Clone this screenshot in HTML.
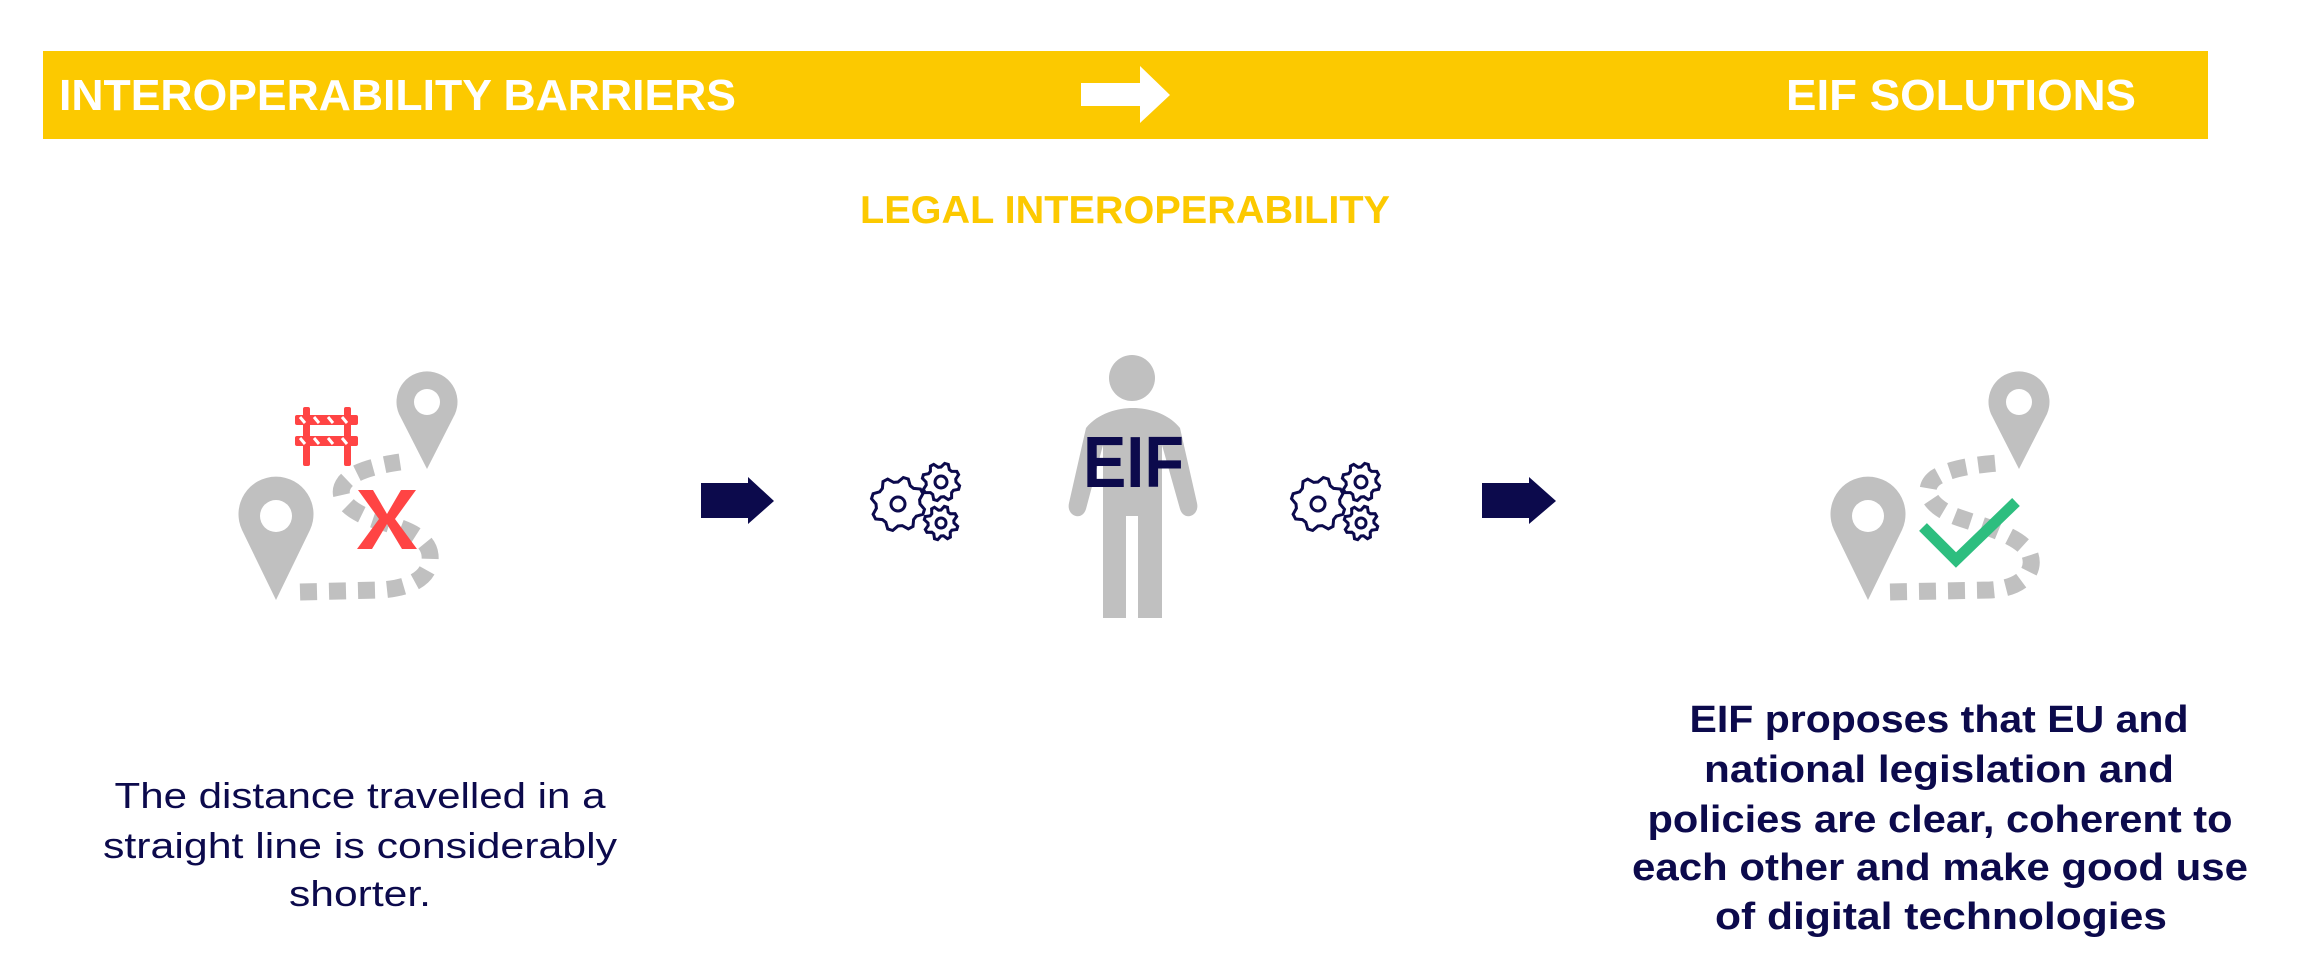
<!DOCTYPE html>
<html><head><meta charset="utf-8"><style>html,body{margin:0;padding:0;background:#fff}svg{display:block}</style></head>
<body>
<svg width="2304" height="980" viewBox="0 0 2304 980" xmlns="http://www.w3.org/2000/svg">
<rect x="0" y="0" width="2304" height="980" fill="#fff"/>
<rect x="43" y="51" width="2165" height="88" fill="#fcc900"/>
<g font-family="Liberation Sans, sans-serif" font-weight="bold">
<text x="59" y="110" font-size="44" fill="#fff" textLength="677" lengthAdjust="spacingAndGlyphs">INTEROPERABILITY BARRIERS</text>
<text x="1786" y="110" font-size="44" fill="#fff" textLength="350" lengthAdjust="spacingAndGlyphs">EIF SOLUTIONS</text>
<text x="860" y="223" font-size="39" fill="#fcc900" textLength="530" lengthAdjust="spacingAndGlyphs">LEGAL INTEROPERABILITY</text>
</g>
<polygon points="1081,83 1140,83 1140,66 1170,95 1140,123 1140,106 1081,106" fill="#fff"/>

<!-- left icon -->
<path d="M300,592 L380,590 C415,588 432,575 430,555 C428,535 400,527 375,520 C345,510 335,495 345,482 C355,470 380,465 400,462" fill="none" stroke="#c0c0c0" stroke-width="17" stroke-dasharray="17 12"/>
<path d="M276,600 L242,530 A37.5,37.5 0 1 1 310,530 Z" fill="#c0c0c0"/>
<circle cx="276" cy="516" r="16" fill="#fff"/>
<path d="M427,469 L399,414 A30.5,30.5 0 1 1 455,414 Z" fill="#c0c0c0"/>
<circle cx="427" cy="402" r="13" fill="#fff"/>
<g fill="#ff4444">
<rect x="303" y="407" width="7" height="59" rx="2"/><rect x="344" y="407" width="7" height="59" rx="2"/>
<rect x="295" y="415" width="63" height="10" rx="2"/><rect x="295" y="436" width="63" height="10" rx="2"/>
</g>
<g stroke="#fff" stroke-width="3">
<line x1="300" y1="417" x2="305" y2="423"/><line x1="314" y1="417" x2="319" y2="423"/><line x1="328" y1="417" x2="333" y2="423"/><line x1="342" y1="417" x2="347" y2="423"/>
<line x1="300" y1="438" x2="305" y2="444"/><line x1="314" y1="438" x2="319" y2="444"/><line x1="328" y1="438" x2="333" y2="444"/><line x1="342" y1="438" x2="347" y2="444"/>
</g>
<polygon points="358,490 373,490 387,514 401,490 416,490 395,519 417,549 402,549 387,524 372,549 357,549 379,519" fill="#ff4444"/>

<!-- arrows -->
<polygon points="701,483 748,483 748,477 774,501 748,524 748,518 701,518" fill="#0c0a4c"/>
<polygon points="1482,483 1529,483 1529,477 1556,501 1529,524 1529,518 1482,518" fill="#0c0a4c"/>

<!-- gears -->
<g id="gears" fill="none" stroke="#0c0a4c" stroke-width="3"></g>

<!-- person -->
<g fill="#c0c0c0">
<circle cx="1132" cy="378" r="23"/>
<path d="M1086,428 C1098,413 1118,408 1133,408 C1148,408 1168,413 1180,428 L1197,503 C1200,516 1184,522 1180,509 L1162,445 L1162,618 L1138,618 L1138,516 L1126,516 L1126,618 L1103,618 L1103,445 L1086,509 C1082,522 1066,516 1069,503 Z"/>
</g>
<text x="1083" y="487" font-family="Liberation Sans, sans-serif" font-weight="bold" font-size="72" fill="#0c0a4c" textLength="101" lengthAdjust="spacingAndGlyphs">EIF</text>

<!-- right icon -->
<path d="M1890,592 L1990,590 C2025,588 2035,570 2030,555 C2024,538 1990,528 1960,518 C1930,508 1920,490 1935,478 C1950,468 1975,465 1998,463" fill="none" stroke="#c0c0c0" stroke-width="17" stroke-dasharray="17 12"/>
<path d="M1868,600 L1834,530 A37.5,37.5 0 1 1 1902,530 Z" fill="#c0c0c0"/>
<circle cx="1868" cy="516" r="16" fill="#fff"/>
<path d="M2019,469 L1991,414 A30.5,30.5 0 1 1 2047,414 Z" fill="#c0c0c0"/>
<circle cx="2019" cy="402" r="13" fill="#fff"/>
<polyline points="1923,527 1956,560 2016,502" fill="none" stroke="#2dbe7f" stroke-width="11"/>

<g font-family="Liberation Sans, sans-serif" fill="#0c0a4c" font-size="36" text-anchor="middle">
<text x="360" y="808" textLength="491" lengthAdjust="spacingAndGlyphs">The distance travelled in a</text>
<text x="360" y="858" textLength="514" lengthAdjust="spacingAndGlyphs">straight line is considerably</text>
<text x="360" y="906" textLength="142" lengthAdjust="spacingAndGlyphs">shorter.</text>
</g>
<g font-family="Liberation Sans, sans-serif" font-weight="bold" fill="#0c0a4c" font-size="38" text-anchor="middle">
<text x="1939" y="732" textLength="499" lengthAdjust="spacingAndGlyphs">EIF proposes that EU and</text>
<text x="1939" y="782" textLength="470" lengthAdjust="spacingAndGlyphs">national legislation and</text>
<text x="1940" y="832" textLength="585" lengthAdjust="spacingAndGlyphs">policies are clear, coherent to</text>
<text x="1940" y="880" textLength="616" lengthAdjust="spacingAndGlyphs">each other and make good use</text>
<text x="1941" y="929" textLength="452" lengthAdjust="spacingAndGlyphs">of digital technologies</text>
</g>
</svg>
<script>
(function(){
var g=document.getElementById('gears');
function gear(cx,cy,R,r,n,h){
 var pts=[];
 for(var i=0;i<n*4;i++){
  var a=i/(n*4)*Math.PI*2;
  var rad=(i%4==1||i%4==2)?R:R-h;
  pts.push((cx+rad*Math.cos(a)).toFixed(1)+','+(cy+rad*Math.sin(a)).toFixed(1));
 }
 var p=document.createElementNS('http://www.w3.org/2000/svg','polygon');
 p.setAttribute('points',pts.join(' '));g.appendChild(p);
 var c=document.createElementNS('http://www.w3.org/2000/svg','circle');
 c.setAttribute('cx',cx);c.setAttribute('cy',cy);c.setAttribute('r',r);g.appendChild(c);
}
[0,420].forEach(function(dx){
 gear(898+dx,504,27,7,8,5);
 gear(941+dx,482,19,6,8,4);
 gear(941+dx,523,17,5,8,4);
});
})();
</script>
</body></html>
